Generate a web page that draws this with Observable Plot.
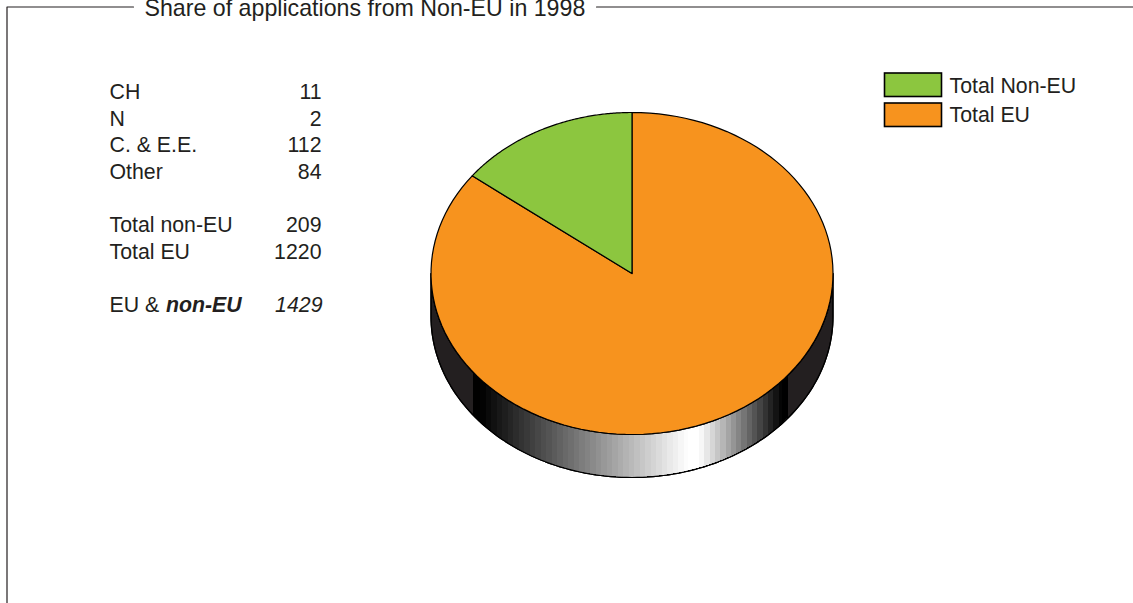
<!DOCTYPE html>
<html><head><meta charset="utf-8">
<script src="https://cdn.jsdelivr.net/npm/d3@7"></script>
<script src="https://cdn.jsdelivr.net/npm/@observablehq/plot@0.6"></script>
<style>html,body{margin:0;padding:0;background:#fff;overflow:hidden}svg{display:block}</style>
</head><body><div id="chart"></div>
<script>
const sliceNames = ["Total EU", "Total Non-EU"];
const sliceValues = [1220, 209];
const sliceColors = ["#f7931e", "#8cc63f"];
const legendNames = ["Total Non-EU", "Total EU"];
const legendColors = ["#8cc63f", "#f7931e"];
const tableLabels = ["CH", "N", "C. & E.E.", "Other", "", "Total non-EU", "Total EU"];
const tableValues = ["11", "2", "112", "84", "", "209", "1220"];
const title = "Share of applications from Non-EU in 1998";

const W = 1133, H = 603, ink = "#231f20";
const cx = 631.5, cy = 273, rx = 201, ry = 161, depth = 43;
const px = a => cx + rx * Math.sin(a), py = a => cy - ry * Math.cos(a);
const total = d3.sum(sliceValues);
const TAU = 2 * Math.PI;
const arcPts = (a0, a1) => d3.range(0, 121).map(i => a0 + (a1 - a0) * i / 120);

let acc = 0;
const slices = sliceNames.flatMap((name, i) => {
  const a0 = acc / total * TAU; acc += sliceValues[i];
  const a1 = acc / total * TAU;
  return [{name, x: cx, y: cy, color: sliceColors[i]},
    ...arcPts(a0, a1).map(a => ({name, x: px(a), y: py(a), color: sliceColors[i]})),
    {name, x: cx, y: cy, color: sliceColors[i]}];
});

// Lower edge of the disc
const lowerY = x => cy + ry * Math.sqrt(Math.max(0, 1 - ((x - cx) / rx) ** 2));
const body = [
  ...arcPts(Math.PI / 2, 3 * Math.PI / 2).map(a => ({x: px(a), y: py(a) + depth})),
  ...arcPts(3 * Math.PI / 2, Math.PI / 2).map(a => ({x: px(a), y: py(a)})),
  {x: px(Math.PI / 2), y: py(Math.PI / 2) + depth}
];
// Stepped shading of the rim
const shadeStops = [[473, 0], [480, 0], [688, 255], [699, 255], [782, 0], [788, 0]];
const shadeX = d3.scaleLinear(shadeStops.map(d => d[0]), shadeStops.map(d => d[1])).clamp(true);
const bandEdges = [473, ...d3.range(480, 688, 5.5), 688, 699, ...d3.range(704.3, 782, 5.3), 782, 788];
const bands = bandEdges.slice(0, -1).flatMap((x0, i) => {
  const x1 = bandEdges[i + 1], g = Math.round(shadeX((x0 + x1) / 2));
  return d3.range(0, 5).map(k => {
    const x = x0 + (x1 - x0) * k / 4;
    return {band: i, x, y1: lowerY(x), y2: lowerY(x) + depth, fill: `rgb(${g},${g},${g})`};
  });
});

const labelRows = tableLabels.map((t, i) => ({t, v: tableValues[i], y: 91.6 + i * 26.7})).filter(d => d.t);
const txt = {fill: ink, fontSize: 21.3, textAnchor: "start"};

const chart = Plot.plot({
  width: W, height: H, margin: 0,
  x: {domain: [0, W], range: [0, W], axis: null},
  y: {domain: [0, H], range: [0, H], axis: null},
  color: {type: "identity"},
  style: {fontFamily: "'Liberation Sans', Arial, sans-serif", background: "#fff"},
  marks: [
    Plot.line([{x: 133, y: 6.5}, {x: 6.5, y: 6.5}, {x: 6.5, y: H}], {x: "x", y: "y", stroke: ink, strokeWidth: 1.2}),
    Plot.line([{x: 596, y: 6.5}, {x: W, y: 6.5}], {x: "x", y: "y", stroke: ink, strokeWidth: 1.2}),
    Plot.text([title], {x: 144, y: 8.5, text: d => d, ...txt, fontSize: 23.2}),

    Plot.line(body, {x: "x", y: "y", fill: ink, stroke: "#000", strokeWidth: 1.2, curve: "linear"}),
    Plot.areaY(bands, {x: "x", y1: "y1", y2: "y2", z: "band", fill: "fill", shapeRendering: "crispEdges", curve: "linear"}),
    Plot.line(body, {x: "x", y: "y", stroke: "#000", strokeWidth: 1.2, curve: "linear"}),
    Plot.line(slices, {x: "x", y: "y", z: "name", fill: "color", stroke: "#000", strokeWidth: 1.2, curve: "linear", strokeLinejoin: "round"}),

    Plot.text(labelRows, {x: 109, y: "y", text: "t", ...txt}),
    Plot.text(labelRows, {x: 321, y: "y", text: "v", ...txt, textAnchor: "end"}),
    Plot.text(["EU &"], {x: 109, y: 304.5, text: d => d, ...txt}),
    Plot.text(["non-EU"], {x: 165.5, y: 304.5, text: d => d, ...txt, fontWeight: "bold", fontStyle: "italic"}),
    Plot.text(["1429"], {x: 322, y: 304.5, text: d => d, ...txt, textAnchor: "end", fontStyle: "italic"}),

    Plot.rect(legendNames, {x1: () => 884.5, x2: () => 941.5, y1: (d, i) => 73 + i * 30, y2: (d, i) => 96.5 + i * 30, fill: (d, i) => legendColors[i], stroke: "#000", strokeWidth: 1.6}),
    Plot.text(legendNames, {x: 949, y: (d, i) => 86 + i * 29, text: d => d, ...txt})
  ]
});
document.getElementById("chart").append(chart);
</script></body></html>
